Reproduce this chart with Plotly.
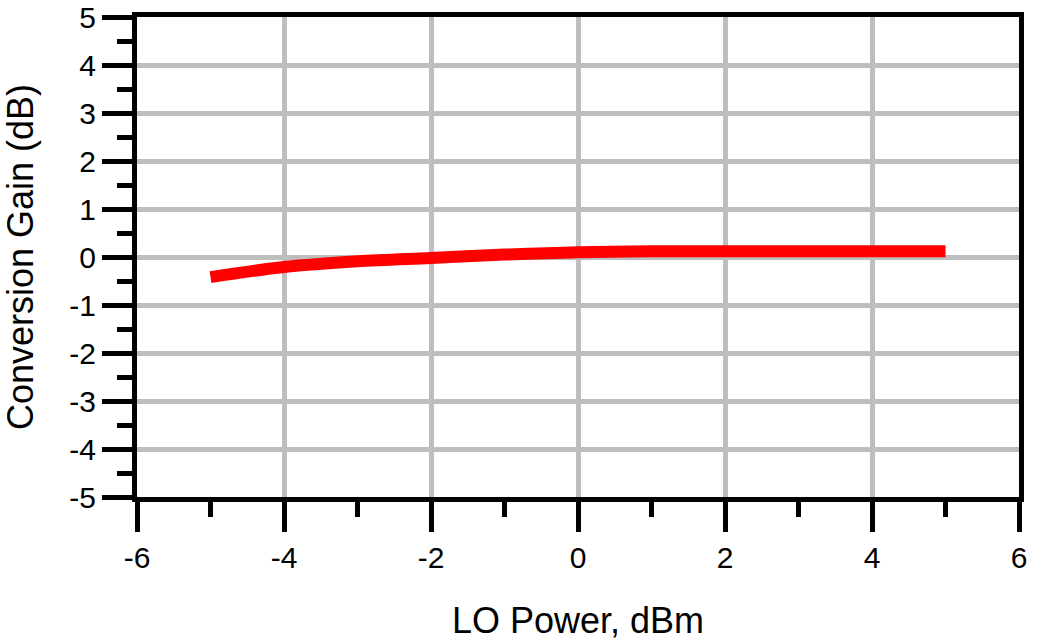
import plotly.graph_objects as go

lo_power = [-5, -4, -3, -2, -1, 0, 1, 2, 3, 4, 5]
conv_gain = [-0.42, -0.21, -0.09, -0.02, 0.05, 0.10, 0.12, 0.12, 0.12, 0.12, 0.12]

x_ticks = [-6, -4, -2, 0, 2, 4, 6]
y_ticks = [5, 4, 3, 2, 1, 0, -1, -2, -3, -4, -5]

fig = go.Figure()
fig.add_trace(go.Scatter(x=lo_power, y=conv_gain, mode="lines",
                         line=dict(color="#ff0000", width=12, shape="spline"),
                         showlegend=False))

font = "Liberation Sans, Arial, sans-serif"
common = dict(showline=True, linecolor="black", linewidth=5, mirror=True,
              showgrid=True, gridcolor="#bebebe", gridwidth=5, zeroline=False,
              ticks="outside", ticklen=30, tickwidth=5, tickcolor="black",
              automargin=False,
              tickfont=dict(family=font, size=30, color="black"))

fig.update_xaxes(range=[-6, 6], tickvals=x_ticks, ticktext=[str(v) for v in x_ticks],
                 minor=dict(dtick=1, ticklen=15, tickwidth=5, tickcolor="black",
                            ticks="outside", showgrid=False),
                 title=dict(text="LO Power, dBm", font=dict(family=font, size=36, color="black"),
                            standoff=36),
                 **common)
fig.update_yaxes(range=[-5, 5], tickvals=y_ticks, ticktext=[str(v) for v in y_ticks],
                 minor=dict(dtick=0.5, ticklen=15, tickwidth=5, tickcolor="black",
                            ticks="outside", showgrid=False),
                 title=dict(text="Conversion Gain (dB)", font=dict(family=font, size=36, color="black"),
                            standoff=26),
                 **common)

fig.update_layout(width=1037, height=644, paper_bgcolor="white", plot_bgcolor="white",
                  margin=dict(l=137, r=18, t=17, b=147))
fig.write_html("out.html", config={"displayModeBar": False},
               post_script="document.body.style.margin='0';")
